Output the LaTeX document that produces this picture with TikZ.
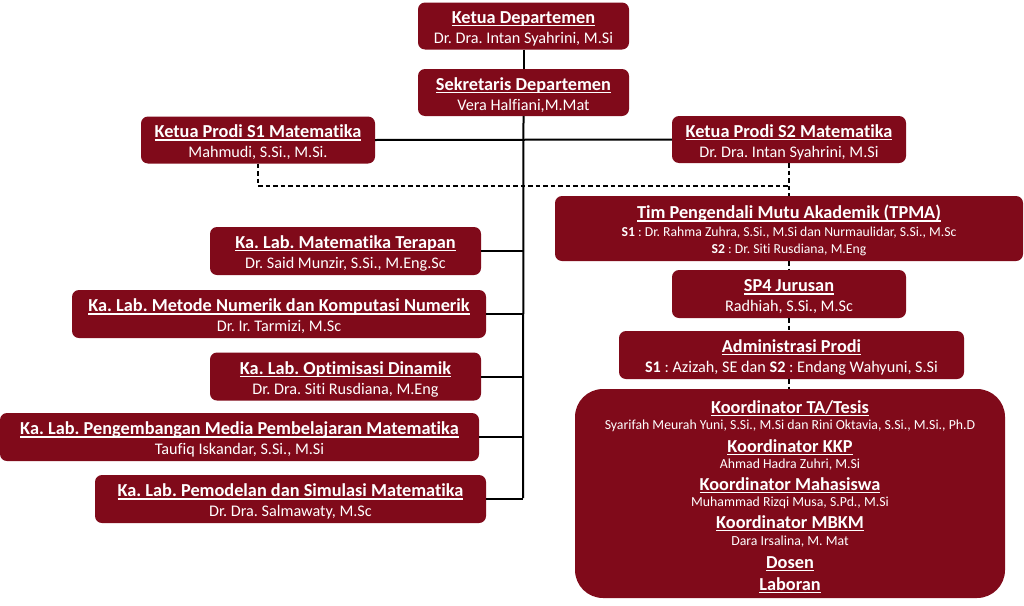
\documentclass[tikz,border=0pt]{standalone}
\usepackage{fontspec}
\setmainfont{Carlito}[Ligatures=NoCommon]
\frenchspacing
\newlength\ulxwd
\newcommand{\ulx}[1]{\setbox0=\hbox{#1}\setlength\ulxwd{\wd0}\leavevmode\rlap{\box0}\rule[-2.8pt]{\ulxwd}{1.3pt}}
\newcommand{\tit}[1]{{\fontsize{18.3}{20}\selectfont\bfseries\rule{0pt}{18pt}\ulx{#1}}}
\definecolor{boxred}{HTML}{800A1A}
\begin{document}
\begin{tikzpicture}[x=1pt,y=-1pt,
  box/.style={fill=boxred, rounded corners=7pt, text=white, align=center, inner sep=0pt,
    font=\fontsize{16.2}{20}\selectfont\frenchspacing, minimum height=47pt},
  smallbox/.style={box, font=\fontsize{13.7}{17.5}\selectfont\frenchspacing},
  bigbox/.style={fill=boxred, rounded corners=28pt, inner sep=0pt},
  txt/.style={text=white, inner sep=0pt, anchor=base},
  subtxt/.style={txt, font=\fontsize{13.8}{15}\selectfont\frenchspacing},
  titletxt/.style={txt},
  link/.style={line width=2pt, black},
  dlink/.style={line width=1.6pt, black, dash pattern=on 4.5pt off 3pt}]
\useasboundingbox (0,0) rectangle (1024,605);
\fill[white] (0,0) rectangle (1024,605);

% top
\node[box, minimum width=211pt] (ketua) at (523.5,26) {\tit{Ketua Departemen}\\Dr. Dra. Intan Syahrini, M.Si};
\node[box, minimum width=211pt] (sek) at (523.5,92.5) {\tit{Sekretaris Departemen}\\Vera Halfiani,M.Mat};
\node[box, minimum width=234pt] (s1) at (258,140) {\tit{Ketua Prodi S1 Matematika}\\Mahmudi, S.Si., M.Si.};
\node[box, minimum width=234pt] (s2) at (789,139.5) {\tit{Ketua Prodi S2 Matematika}\\Dr. Dra. Intan Syahrini, M.Si};

% right column
\node[smallbox, minimum width=468pt, minimum height=65pt] (tpma) at (789,228.5) {\tit{Tim Pengendali Mutu Akademik (TPMA)}\\\textbf{S1} : Dr. Rahma Zuhra, S.Si., M.Si dan Nurmaulidar, S.Si., M.Sc\\\textbf{S2} : Dr. Siti Rusdiana, M.Eng};
\node[box, minimum width=234pt, minimum height=48pt] (sp4) at (789,294) {\tit{SP4 Jurusan}\\Radhiah, S.Si., M.Sc};
\node[box, minimum width=345pt, minimum height=48pt] (adm) at (791.5,355) {\tit{Administrasi Prodi}\\\textbf{S1} : Azizah, SE dan \textbf{S2} : Endang Wahyuni, S.Si};
\node[bigbox, minimum width=430pt, minimum height=209pt] (koor) at (790,493.5) {};
\node[titletxt] (k1) at (790,413) {\tit{Koordinator TA/Tesis}};
\node[subtxt] (k1s) at (790,429.5) {Syarifah Meurah Yuni, S.Si., M.Si dan Rini Oktavia, S.Si., M.Si., Ph.D};
\node[titletxt] (k2) at (790,452) {\tit{Koordinator KKP}};
\node[subtxt] (k2s) at (790,468.5) {Ahmad Hadra Zuhri, M.Si};
\node[titletxt] (k3) at (790,490) {\tit{Koordinator Mahasiswa}};
\node[subtxt] (k3s) at (790,506.5) {Muhammad Rizqi Musa, S.Pd., M.Si};
\node[titletxt] (k4) at (790,528) {\tit{Koordinator MBKM}};
\node[subtxt] (k4s) at (790,545.5) {Dara Irsalina, M. Mat};
\node[titletxt] (k5) at (790,568) {\tit{Dosen}};
\node[titletxt] (k6) at (790,590) {\tit{Laboran}};

% labs
\node[box, minimum width=271pt, minimum height=48pt] (lab1) at (345.5,251) {\tit{Ka. Lab. Matematika Terapan}\\Dr. Said Munzir, S.Si., M.Eng.Sc};
\node[box, minimum width=414pt, minimum height=48pt] (lab2) at (279,314) {\tit{Ka. Lab. Metode Numerik dan Komputasi Numerik}\\Dr. Ir. Tarmizi, M.Sc};
\node[box, minimum width=271pt, minimum height=48pt] (lab3) at (345.5,376.5) {\tit{Ka. Lab. Optimisasi Dinamik}\\Dr. Dra. Siti Rusdiana, M.Eng};
\node[box, minimum width=479pt, minimum height=48pt] (lab4) at (239.5,437) {\tit{Ka. Lab. Pengembangan Media Pembelajaran Matematika}\\Taufiq Iskandar, S.Si., M.Si};
\node[box, minimum width=391pt, minimum height=48pt] (lab5) at (290.5,499) {\tit{Ka. Lab. Pemodelan dan Simulasi Matematika}\\Dr. Dra. Salmawaty, M.Sc};

% connectors
\coordinate (trunkend) at (523,498);
\coordinate (dj) at (789,186);
\draw[link] (ketua.south) -- (sek.north);
\draw[link] (sek.south) -- (trunkend);
\draw[link] (s1.east) -- (s2.west);
\draw[link] (lab1.east) -- (lab1.east -| trunkend);
\draw[link] (lab2.east) -- (lab2.east -| trunkend);
\draw[link] (lab3.east) -- (lab3.east -| trunkend);
\draw[link] (lab4.east) -- (lab4.east -| trunkend);
\draw[link] (lab5.east) -- (lab5.east -| trunkend);
\draw[dlink] (s1.south) |- (dj);
\draw[dlink] (s2.south) -- (tpma.north);
\draw[dlink] (tpma.south) -- (sp4.north);
\draw[dlink] (sp4.south) -- (sp4.south |- adm.north);
\draw[dlink] (adm.south -| sp4.south) -- (sp4.south |- koor.north);
\end{tikzpicture}
\end{document}
